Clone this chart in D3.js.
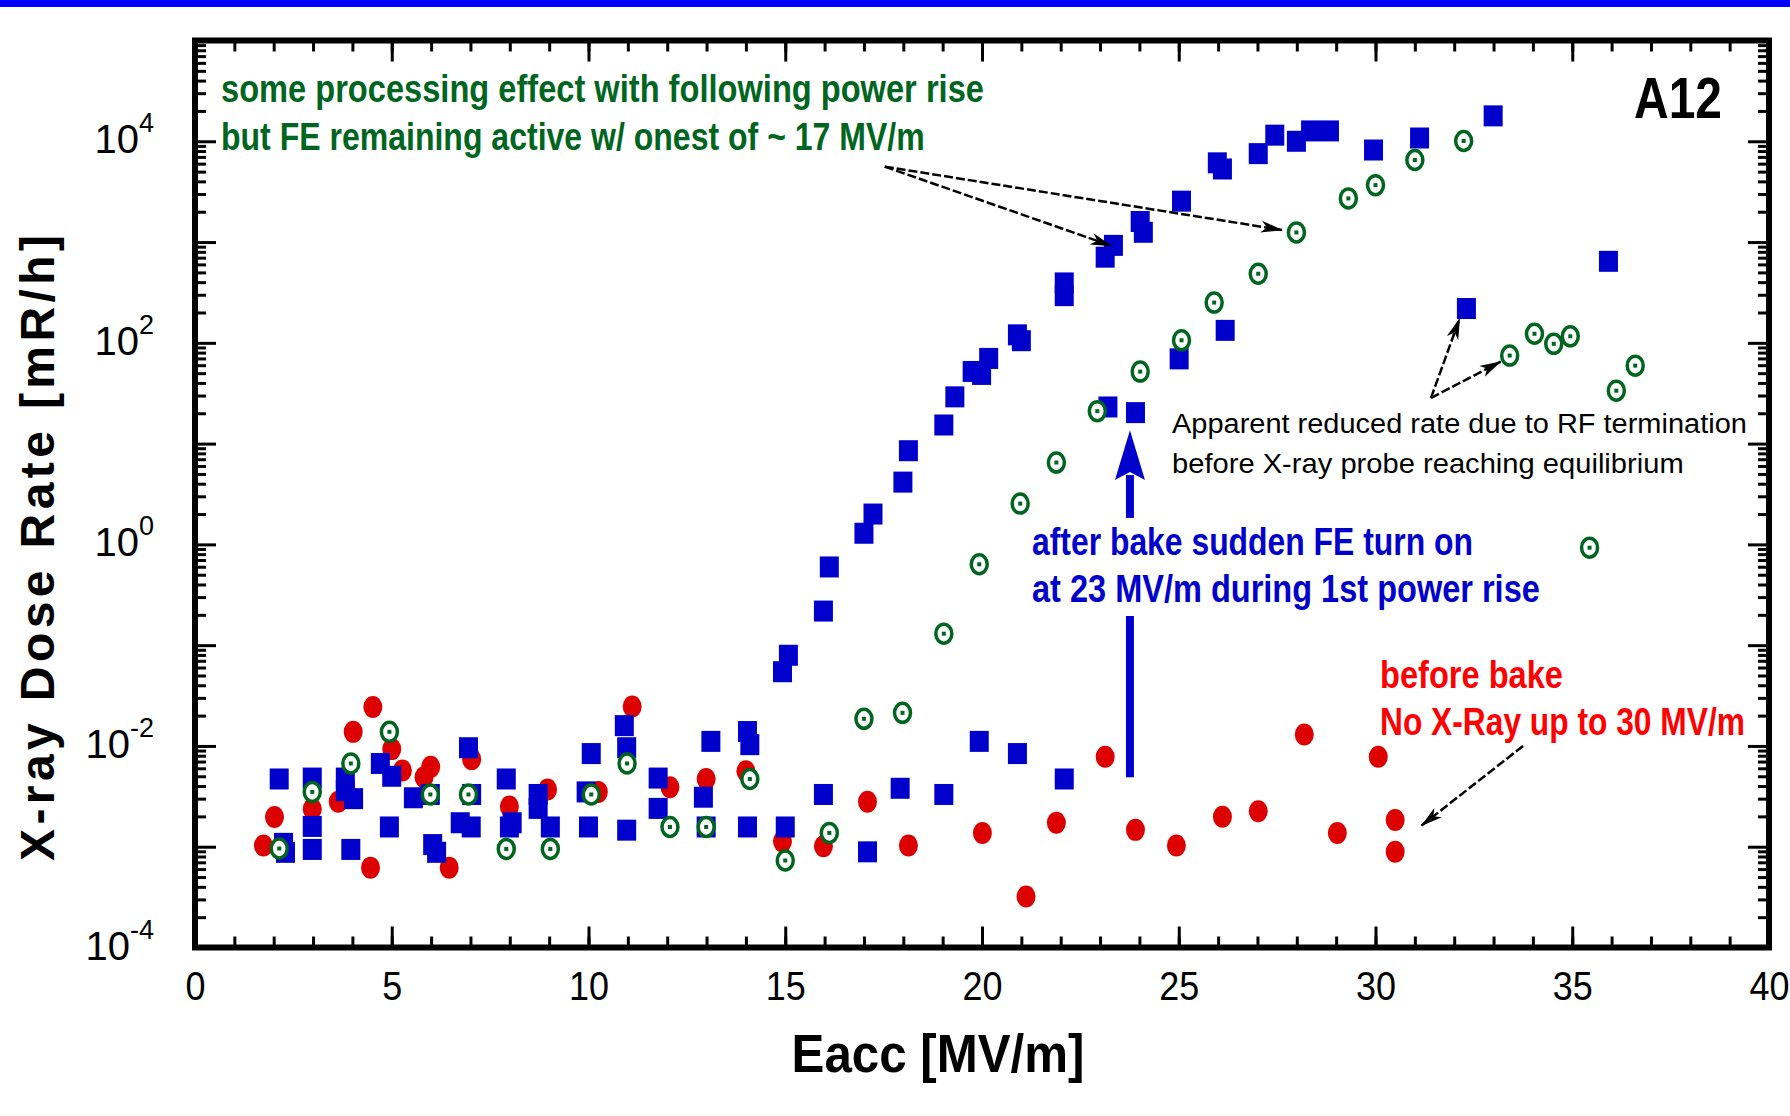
<!DOCTYPE html>
<html>
<head>
<meta charset="utf-8">
<title>A12 X-ray dose rate vs Eacc</title>
<script src="https://cdn.jsdelivr.net/npm/d3@7/dist/d3.min.js"></script>
<style>
  html, body { margin: 0; padding: 0; background: #fff; }
  svg { display: block; }
</style>
</head>
<body>
<div id="chart"></div>
<script>
// [Eacc in MV/m, X-ray dose rate in mR/h]
var beforeBake = [
  [1.74, 0.00103], [2.02, 0.00197], [2.98, 0.00236], [3.64, 0.0028], [4.02, 0.0138],
  [4.46, 0.00062], [4.52, 0.0244], [5.0, 0.0093], [5.27, 0.0057], [5.82, 0.0049],
  [5.99, 0.0062], [6.46, 0.00062], [7.03, 0.0074], [7.99, 0.0025], [8.96, 0.0037],
  [10.25, 0.0035], [11.11, 0.0246], [12.07, 0.0039], [12.99, 0.0047], [14.0, 0.0056],
  [14.93, 0.00113], [15.97, 0.00101], [17.09, 0.0028], [18.13, 0.00103], [20.01, 0.00137],
  [21.12, 0.00032], [21.89, 0.00173], [23.13, 0.0078], [23.9, 0.00147], [24.94, 0.00103],
  [26.11, 0.00198], [27.02, 0.00225], [28.19, 0.013], [29.03, 0.00137], [30.07, 0.0078],
  [30.5, 0.00184], [30.5, 0.00089]
];

// after bake, 1st power rise
var afterBakeFirst = [
  [2.14, 0.0047], [2.25, 0.00108], [2.3, 0.00088], [2.98, 0.0048], [2.98, 0.00159],
  [2.98, 0.00094], [3.82, 0.0048], [3.82, 0.0036], [4.03, 0.003], [3.96, 0.00094],
  [4.71, 0.0067], [5.0, 0.005], [4.94, 0.00157], [5.55, 0.00306], [5.98, 0.0033],
  [6.04, 0.00105], [6.14, 0.00088], [6.95, 0.0096], [6.74, 0.00173], [7.02, 0.00157],
  [7.03, 0.0033], [7.91, 0.0047], [8.06, 0.00173], [7.99, 0.00157], [8.72, 0.0033],
  [8.72, 0.0024], [9.03, 0.00157], [10.07, 0.0084], [9.94, 0.0035], [10.0, 0.00157],
  [10.91, 0.0159], [10.97, 0.0096], [10.97, 0.00146], [11.77, 0.0048], [11.77, 0.0024],
  [12.92, 0.0031], [13.11, 0.0111], [12.99, 0.00157], [14.04, 0.0139], [14.1, 0.0103],
  [14.04, 0.00157], [15.0, 0.00157], [15.97, 0.0033], [17.09, 0.00089], [17.92, 0.0038],
  [19.03, 0.0033], [19.93, 0.0111], [20.9, 0.0084], [22.09, 0.0047],
  [14.93, 0.0545], [15.08, 0.0794], [15.97, 0.218], [16.12, 0.597], [17.0, 1.29],
  [17.23, 2.0], [17.99, 4.15], [18.13, 8.5], [19.03, 15.3], [19.31, 29.1],
  [19.75, 52], [19.99, 48.6], [20.17, 70], [20.9, 120], [21.0, 105],
  [22.09, 393], [22.09, 294], [23.13, 708], [23.34, 927], [24.02, 1600],
  [24.1, 1250], [25.07, 2546], [25.98, 6110], [26.11, 5310], [27.02, 7540],
  [27.44, 11500], [27.99, 10000], [28.35, 12670], [28.83, 12670], [29.95, 8190],
  [31.12, 10780], [32.99, 17870],
  [23.2, 23.1], [23.9, 20.3], [25.01, 69.3], [26.18, 133], [32.31, 219], [35.92, 644]
];

// after bake, following power rise
var afterBakeLater = [
  [2.14, 0.00096], [2.98, 0.0035], [3.96, 0.0067], [4.94, 0.0138], [5.98, 0.0033],
  [6.95, 0.0033], [7.91, 0.00095], [9.03, 0.00095], [10.07, 0.0033], [10.98, 0.0067],
  [12.07, 0.00157], [12.99, 0.00157], [14.1, 0.0047], [15.0, 0.00073], [16.12, 0.00137],
  [17.0, 0.0186], [17.98, 0.0213], [19.03, 0.13], [19.93, 0.635], [20.97, 2.54],
  [21.89, 6.49], [22.93, 21], [24.02, 51.8], [25.07, 106], [25.9, 251],
  [27.02, 485], [27.99, 1245], [29.31, 2710], [30.0, 3670], [31.0, 6520],
  [32.24, 10070], [33.41, 74.8], [34.04, 123], [34.53, 97.7], [34.95, 116],
  [35.44, 0.927], [36.12, 33.5], [36.6, 59.4]
];

var xMajor = [0, 5, 10, 15, 20, 25, 30, 35, 40];
var xMinor = d3.range(0, 41, 1);
var yDecades = [1e-4, 1e-3, 1e-2, 1e-1, 1, 1e1, 1e2, 1e3, 1e4, 1e5];
var yLabelled = [1e-4, 1e-2, 1, 1e2, 1e4];
var yLabelExp = ["-4", "-2", "0", "2", "4"];

// annotation arrows, in data units
var processingFrom = [17.53, 5600];
var processingTo = [[23.29, 918], [27.62, 1318]];
var rfFrom = [31.41, 28.4];
var rfTo = [[32.14, 175], [33.18, 65]];
var beforeFrom = [33.75, 0.01];
var beforeTo = [[31.17, 0.00162]];
var onsetE = 23.76;
var onsetLevels = [0.0049, 0.195, 1.83, 4.35, 13.6]; // bottom, gap low, gap high, head base, tip

var W = 1790, H = 1116;
var FONT = "'Liberation Sans', Arial, Helvetica, sans-serif";
var BLUE = "#0000cc", RED = "#dd0000", GREEN = "#00661f";

var svg = d3.select("#chart").append("svg")
  .attr("width", W).attr("height", H)
  .style("font-family", FONT);

svg.append("rect").attr("width", W).attr("height", H).attr("fill", "#fff");
// blue band along the top
svg.append("rect").attr("x", 0).attr("y", 0).attr("width", W).attr("height", 7).attr("fill", "#0000ff");

var x = d3.scaleLinear().domain([0, 40]).range([195, 1769]);
var y = d3.scaleLog().domain([1e-4, 1e5]).range([947.5, 40.5]);

var yMinor = [];
yDecades.slice(0, -1).forEach(function(d){
  d3.range(2, 10).forEach(function(m){ yMinor.push(m * d); });
});

// stretch/squeeze a text horizontally to a given width (the original uses a narrow face)
function fit(sel, px, py, w, anchor){
  sel.each(function(){
    var node = this;
    var s = w / node.getComputedTextLength();
    d3.select(node).attr("x", 0).attr("y", 0)
      .attr("text-anchor", anchor || "start")
      .attr("transform", "translate(" + px + "," + py + ") scale(" + s + ",1)");
  });
}

function axisLayer(axis, tr){
  var g = svg.append("g").attr("transform", tr).call(axis);
  g.select(".domain").remove();
  g.selectAll(".tick line").attr("stroke", "#000").attr("stroke-width", 3);
  return g;
}

// ticks on all four sides, pointing inward
var gx = axisLayer(d3.axisBottom(x).tickValues(xMajor).tickSize(-21).tickFormat(function(d){ return d; }),
  "translate(0," + y.range()[0] + ")");
gx.attr("font-size", 40).attr("font-family", FONT);
gx.selectAll(".tick text").attr("dy", null).attr("fill", "#000").each(function(d){
  fit(d3.select(this), 0, 52, String(d).length * 20, "middle");
});
axisLayer(d3.axisBottom(x).tickValues(xMinor).tickSize(-11).tickFormat(""), "translate(0," + y.range()[0] + ")");
axisLayer(d3.axisTop(x).tickValues(xMajor).tickSize(-21).tickFormat(""), "translate(0," + y.range()[1] + ")");
axisLayer(d3.axisTop(x).tickValues(xMinor).tickSize(-11).tickFormat(""), "translate(0," + y.range()[1] + ")");
axisLayer(d3.axisLeft(y).tickValues(yDecades).tickSize(-21).tickFormat(""), "translate(" + x.range()[0] + ",0)");
axisLayer(d3.axisLeft(y).tickValues(yMinor).tickSize(-11).tickFormat(""), "translate(" + x.range()[0] + ",0)");
axisLayer(d3.axisRight(y).tickValues(yDecades).tickSize(-21).tickFormat(""), "translate(" + x.range()[1] + ",0)");
axisLayer(d3.axisRight(y).tickValues(yMinor).tickSize(-11).tickFormat(""), "translate(" + x.range()[1] + ",0)");

// y tick labels 10^n
var ylab = svg.append("g").selectAll("text").data(yLabelled).join("text")
  .attr("x", 154).attr("y", function(d){ return y(d) + 12; })
  .attr("text-anchor", "end").attr("font-size", 40).attr("fill", "#000");
ylab.append("tspan").text("10");
ylab.append("tspan").attr("font-size", 27).attr("dy", -21)
  .text(function(d, i){ return yLabelExp[i]; });

// frame
svg.append("rect")
  .attr("x", x.range()[0]).attr("y", y.range()[1])
  .attr("width", x.range()[1] - x.range()[0]).attr("height", y.range()[0] - y.range()[1])
  .attr("fill", "none").attr("stroke", "#000").attr("stroke-width", 6);

// axis titles
fit(svg.append("text").attr("font-size", 54).attr("font-weight", "bold").text("Eacc [MV/m]"),
  938, 1072, 293, "middle");
svg.append("text")
  .attr("transform", "translate(54,548) rotate(-90)").attr("text-anchor", "middle")
  .attr("font-size", 48).attr("font-weight", "bold")
  .attr("textLength", 626).attr("lengthAdjust", "spacing")
  .text("X-ray Dose Rate [mR/h]");

// markers: red before bake, blue squares 1st rise, green dotted circles later rise
svg.append("g").selectAll("ellipse").data(beforeBake).join("ellipse")
  .attr("cx", function(d){ return x(d[0]); })
  .attr("cy", function(d){ return y(d[1]); })
  .attr("rx", 9.5).attr("ry", 11).attr("fill", RED);

svg.append("g").selectAll("rect").data(afterBakeFirst).join("rect")
  .attr("x", function(d){ return x(d[0]) - 9.5; })
  .attr("y", function(d){ return y(d[1]) - 10.5; })
  .attr("width", 19).attr("height", 21).attr("fill", BLUE);

var gg = svg.append("g").selectAll("g").data(afterBakeLater).join("g")
  .attr("transform", function(d){ return "translate(" + x(d[0]) + "," + y(d[1]) + ")"; });
gg.append("ellipse").attr("rx", 8).attr("ry", 9.5)
  .attr("fill", "#fff").attr("stroke", GREEN).attr("stroke-width", 3.5);
gg.append("rect").attr("x", -2).attr("y", -2).attr("width", 4).attr("height", 4).attr("fill", GREEN);

// black dashed arrows
var defs = svg.append("defs");
defs.append("marker").attr("id", "head")
  .attr("viewBox", "0 -7 22 14").attr("refX", 21).attr("refY", 0)
  .attr("markerWidth", 22).attr("markerHeight", 14)
  .attr("markerUnits", "userSpaceOnUse").attr("orient", "auto")
  .append("path").attr("d", "M0,-6L22,0L0,6L6,0Z").attr("fill", "#000");

function arrows(from, tos){
  svg.append("g").selectAll("line").data(tos).join("line")
    .attr("x1", x(from[0])).attr("y1", y(from[1]))
    .attr("x2", function(d){ return x(d[0]); })
    .attr("y2", function(d){ return y(d[1]); })
    .attr("stroke", "#000").attr("stroke-width", 2.5)
    .attr("stroke-dasharray", "9,3")
    .attr("marker-end", "url(#head)");
}
arrows(processingFrom, processingTo);
arrows(rfFrom, rfTo);
arrows(beforeFrom, beforeTo);

// blue onset arrow, broken by its label
var ox = x(onsetE);
svg.append("line").attr("x1", ox).attr("x2", ox)
  .attr("y1", y(onsetLevels[0])).attr("y2", y(onsetLevels[1]))
  .attr("stroke", BLUE).attr("stroke-width", 8);
svg.append("line").attr("x1", ox).attr("x2", ox)
  .attr("y1", y(onsetLevels[2])).attr("y2", y(onsetLevels[3]) - 5)
  .attr("stroke", BLUE).attr("stroke-width", 8);
var hb = y(onsetLevels[3]), ht = y(onsetLevels[4]);
svg.append("path")
  .attr("d", "M" + ox + "," + ht + "L" + (ox + 15) + "," + hb + "L" + ox + "," + (hb - 8) + "L" + (ox - 15) + "," + hb + "Z")
  .attr("fill", BLUE);

// text annotations
function label(lines, opts){
  lines.forEach(function(d){
    var t = svg.append("text")
      .attr("font-size", opts.size).attr("font-weight", opts.weight || "bold")
      .attr("fill", opts.color).text(d.t);
    fit(t, opts.x, d.y, d.w, "start");
  });
}
label([
  { t: "some processing effect with following power rise", y: 102, w: 763 },
  { t: "but FE remaining active w/ onest of ~ 17 MV/m", y: 150, w: 704 }
], { x: 221, size: 38, color: GREEN });
label([
  { t: "after bake sudden FE turn on", y: 555, w: 441 },
  { t: "at 23 MV/m during 1st power rise", y: 602, w: 508 }
], { x: 1032, size: 38, color: BLUE });
label([
  { t: "before bake", y: 688, w: 183 },
  { t: "No X-Ray up to 30 MV/m", y: 735, w: 365 }
], { x: 1380, size: 38, color: "#ff0000" });
label([
  { t: "Apparent reduced rate due to RF termination", y: 433, w: 575 },
  { t: "before X-ray probe reaching equilibrium", y: 473, w: 512 }
], { x: 1172, size: 28, color: "#000", weight: "normal" });
label([
  { t: "A12", y: 118, w: 88 }
], { x: 1634, size: 57, color: "#000" });
</script>
</body>
</html>
